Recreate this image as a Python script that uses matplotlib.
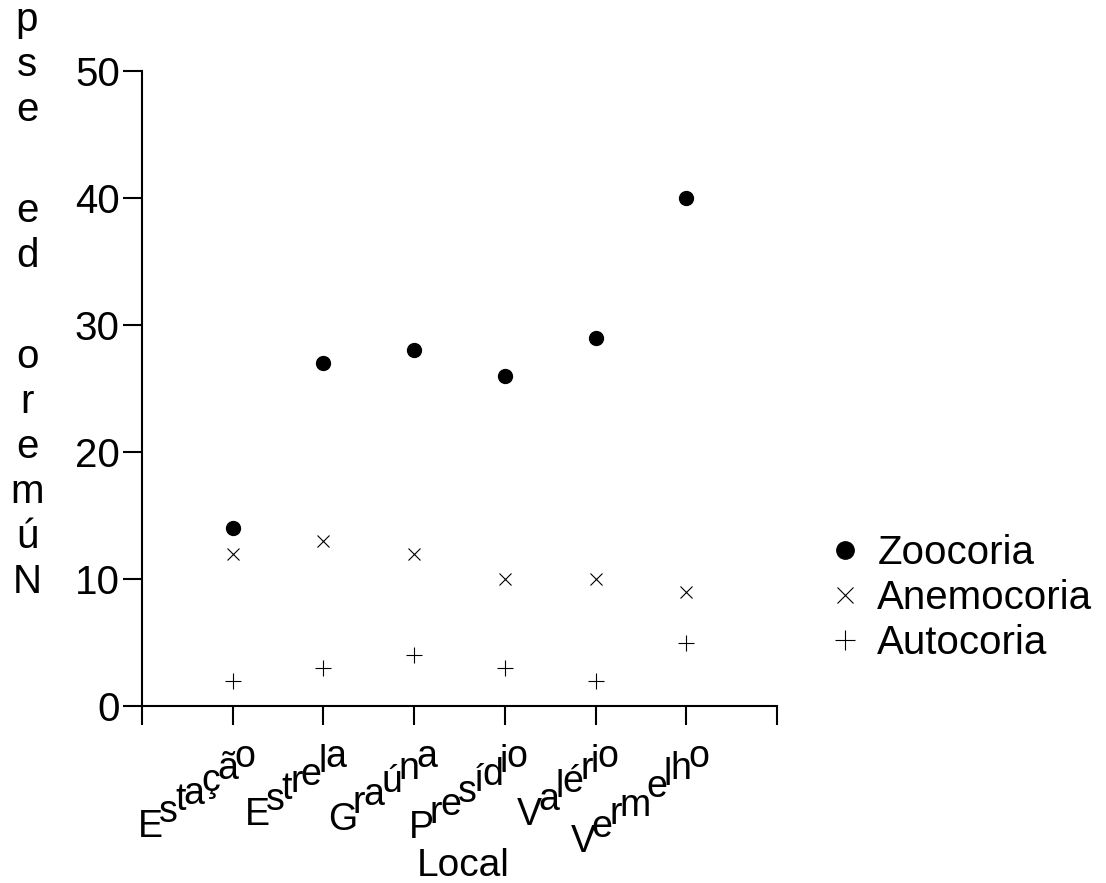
import numpy as np
import matplotlib
matplotlib.use('Agg')
import matplotlib.pyplot as plt
from matplotlib.font_manager import FontProperties, findfont, get_font

# ---- data ----
locais = ['Estação', 'Estrela', 'Graúna', 'Presídio', 'Valério', 'Vermelho']
zoocoria = [14, 27, 28, 26, 29, 40]
anemocoria = [12, 13, 12, 10, 10, 9]
autocoria = [2, 3, 4, 3, 2, 5]
yticks = [0, 10, 20, 30, 40, 50]
series_names = ['Zoocoria', 'Anemocoria', 'Autocoria']
ylabel = 'Número de espécies'
xlabel = 'Local'

plt.rcParams['font.family'] = ['Liberation Sans', 'DejaVu Sans']

W, H = 1106, 883
fig = plt.figure(figsize=(W / 100, H / 100), dpi=100)
ax = fig.add_axes([142 / W, 1 - 706 / H, (777 - 142) / W, (706 - 71) / H])

xs = np.arange(1, len(locais) + 1)
ax.plot(xs, zoocoria, 'o', color='black', ms=10, label=series_names[0], clip_on=False)
ax.plot(xs, anemocoria, 'x', color='black', ms=9, mew=0.8, label=series_names[1], clip_on=False)
ax.plot(xs, autocoria, '+', color='black', ms=12, mew=0.8, label=series_names[2], clip_on=False)

ax.set_xlim(0, len(locais) + 1)
ax.set_ylim(0, 50)
ax.set_xticks(np.arange(0, len(locais) + 2))
ax.set_xticklabels([])
ax.set_yticks(yticks)
ax.tick_params(axis='both', direction='out', length=14, width=1.5, labelsize=29, pad=2, color='black')
for s in ['top', 'right']:
    ax.spines[s].set_visible(False)
for s in ['left', 'bottom']:
    ax.spines[s].set_linewidth(1.5)

leg = ax.legend(loc='center left', bbox_to_anchor=(825 / W, 1 - 598 / H),
                bbox_transform=fig.transFigure, frameon=False, fontsize=29,
                labelspacing=0.18, handlelength=1.0, handletextpad=0.3,
                borderpad=0, borderaxespad=0, markerscale=1.25)

# ---- staircase x tick labels (upright glyphs along a slanted baseline) ----
prop = FontProperties(family=['Liberation Sans', 'DejaVu Sans'], size=27)
ft = get_font(findfont(prop))
ft.set_size(27, 100)


def advance(c):
    g = ft.load_char(ord(c))
    return g.linearHoriAdvance / 65536.0


theta = np.deg2rad(36.0)
k = 1.04
for i, name in enumerate(locais, start=1):
    px, _ = ax.transData.transform((i, 0))
    widths = [advance(c) for c in name]
    total = sum(widths) * k
    ex, ey = px + 19.5, H - 754
    cum = 0.0
    for c, w in zip(name, widths):
        d = total - cum
        cx = ex - d * np.cos(theta)
        cy = ey - d * np.sin(theta)
        fig.text(cx / W, cy / H, c, ha='left', va='baseline', fontproperties=prop)
        cum += w * k

# ---- stacked y label (upright letters, bottom to top) ----
y = 593
for ch in ylabel:
    if ch == ' ':
        y -= 56
        continue
    if y > 20:
        fig.text(27 / W, 1 - y / H, ch, fontsize=29, ha='center', va='baseline')
    y -= 45

fig.text(463 / W, 1 - 876 / H, xlabel, fontsize=28, ha='center', va='baseline')

fig.savefig('out.png', dpi=100)
